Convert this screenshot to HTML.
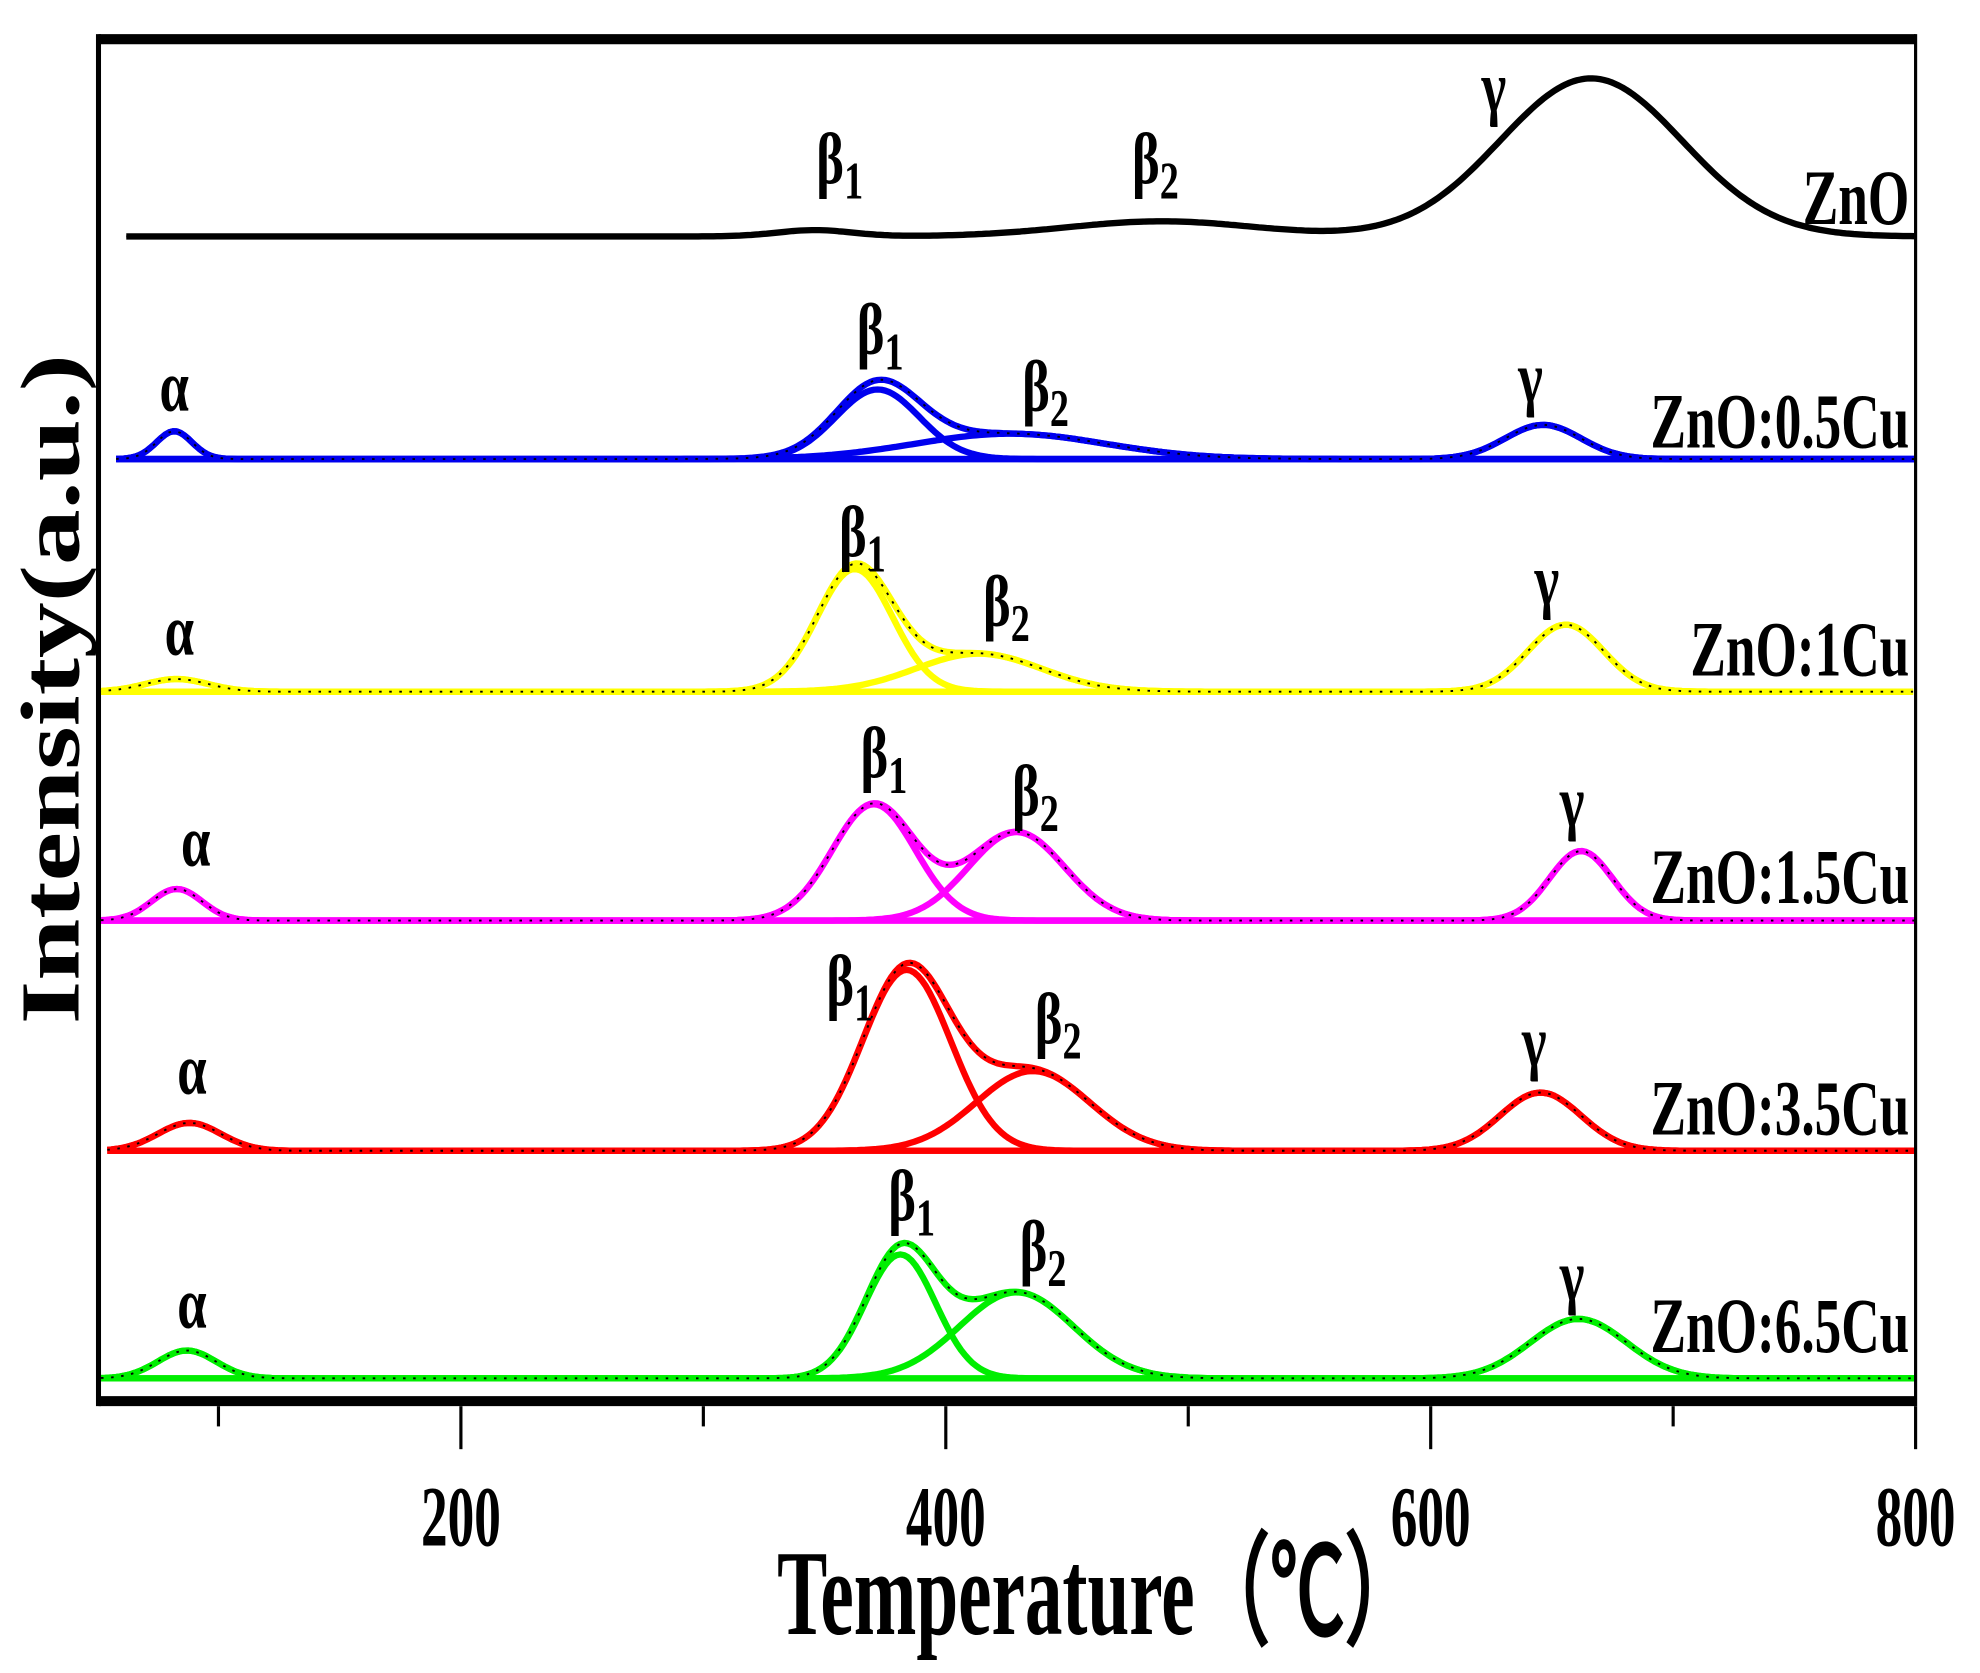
<!DOCTYPE html>
<html><head><meta charset="utf-8"><style>
html,body{margin:0;padding:0;background:#fff;}
svg{display:block;}
text{font-family:"Liberation Serif",serif;font-weight:bold;fill:#000;}
</style></head><body>
<svg id="s" width="1980" height="1673" viewBox="0 0 1568 1323" preserveAspectRatio="none" xmlns="http://www.w3.org/2000/svg">
<rect width="1568" height="1323" fill="#fff"/>
<g id="curves" fill="none" stroke-width="5" stroke-linejoin="round"></g>
<line x1="78" y1="31" x2="1517" y2="31" stroke="#000" stroke-width="8"/>
<line x1="78" y1="1108" x2="1517" y2="1108" stroke="#000" stroke-width="8"/>
<line x1="78" y1="27" x2="78" y2="1112" stroke="#000" stroke-width="4"/>
<line x1="1517" y1="27" x2="1517" y2="1112" stroke="#000" stroke-width="2.5"/>
<g stroke="#000" stroke-width="2.5">
<line x1="365" y1="1112" x2="365" y2="1146"/><line x1="749" y1="1112" x2="749" y2="1146"/>
<line x1="1133" y1="1112" x2="1133" y2="1146"/><line x1="1517" y1="1112" x2="1517" y2="1146"/>
<line x1="173" y1="1112" x2="173" y2="1128"/><line x1="557" y1="1112" x2="557" y2="1128"/>
<line x1="941" y1="1112" x2="941" y2="1128"/><line x1="1325" y1="1112" x2="1325" y2="1128"/>
</g>
<g font-size="68" text-anchor="middle">
<text transform="translate(365,1222) scale(0.62,1)">200</text>
<text transform="translate(749,1222) scale(0.62,1)">400</text>
<text transform="translate(1133,1222) scale(0.62,1)">600</text>
<text transform="translate(1517,1222) scale(0.62,1)">800</text>
</g>
<text font-size="96" text-anchor="middle" transform="translate(870,1292) scale(0.62,1)">Temperature（℃）</text>
<text font-size="66" text-anchor="middle" textLength="530" lengthAdjust="spacingAndGlyphs" transform="translate(62,545) rotate(-90)">Intensity(a.u.)</text>
<g font-size="62" text-anchor="end">
<text transform="translate(1512,177) scale(0.68,1)">ZnO</text>
<text transform="translate(1512,354) scale(0.68,1)">ZnO:0.5Cu</text>
<text transform="translate(1512,534) scale(0.68,1)">ZnO:1Cu</text>
<text transform="translate(1512,714) scale(0.68,1)">ZnO:1.5Cu</text>
<text transform="translate(1512,897) scale(0.68,1)">ZnO:3.5Cu</text>
<text transform="translate(1512,1069) scale(0.68,1)">ZnO:6.5Cu</text>
</g>
<g font-size="58" text-anchor="middle">
<text transform="translate(665,145) scale(0.72,1)">β<tspan font-size="42" dy="12">1</tspan></text>
<text transform="translate(915,145) scale(0.72,1)">β<tspan font-size="42" dy="12">2</tspan></text>
<text transform="translate(1183,88) scale(0.72,1)">γ</text>
<text transform="translate(138,325) scale(0.72,1)">α</text>
<text transform="translate(697,280) scale(0.72,1)">β<tspan font-size="42" dy="12">1</tspan></text>
<text transform="translate(828,325) scale(0.72,1)">β<tspan font-size="42" dy="12">2</tspan></text>
<text transform="translate(1212,318) scale(0.72,1)">γ</text>
<text transform="translate(142,518) scale(0.72,1)">α</text>
<text transform="translate(683,440) scale(0.72,1)">β<tspan font-size="42" dy="12">1</tspan></text>
<text transform="translate(797,495) scale(0.72,1)">β<tspan font-size="42" dy="12">2</tspan></text>
<text transform="translate(1225,478) scale(0.72,1)">γ</text>
<text transform="translate(155,685) scale(0.72,1)">α</text>
<text transform="translate(700,615) scale(0.72,1)">β<tspan font-size="42" dy="12">1</tspan></text>
<text transform="translate(820,645) scale(0.72,1)">β<tspan font-size="42" dy="12">2</tspan></text>
<text transform="translate(1245,653) scale(0.72,1)">γ</text>
<text transform="translate(152,865) scale(0.72,1)">α</text>
<text transform="translate(673,795) scale(0.72,1)">β<tspan font-size="42" dy="12">1</tspan></text>
<text transform="translate(838,825) scale(0.72,1)">β<tspan font-size="42" dy="12">2</tspan></text>
<text transform="translate(1215,843) scale(0.72,1)">γ</text>
<text transform="translate(152,1050) scale(0.72,1)">α</text>
<text transform="translate(722,965) scale(0.72,1)">β<tspan font-size="42" dy="12">1</tspan></text>
<text transform="translate(826,1005) scale(0.72,1)">β<tspan font-size="42" dy="12">2</tspan></text>
<text transform="translate(1245,1028) scale(0.72,1)">γ</text>
</g>
</svg>
<script>
var series=[
 {c:"#000",b:187,x0:100,p:[[645,5,30],[920,12,75],[1260,125,72]]},
 {c:"#0000ee",b:363,x0:92,p:[[138,22,14],[695,55,33],[800,20,75],[1222,27,30]]},
 {c:"#ffff00",b:547,x0:78,p:[[140,10,25],[677,97,30],[775,30,50],[1240,53,30]]},
 {c:"#ff00ff",b:728,x0:80,p:[[140,25,20],[692,92,33],[805,70,38],[1252,55,25]]},
 {c:"#ff0000",b:910,x0:85,p:[[150,22,25],[718,143,35],[818,63,45],[1220,46,32]]},
 {c:"#00ee00",b:1090,x0:80,p:[[148,22,23],[713,98,28],[805,68,45],[1250,47,38]]}
];
var g=document.getElementById("curves"),ns="http://www.w3.org/2000/svg";
function path(d,c,w,dash){var e=document.createElementNS(ns,"path");e.setAttribute("d",d);e.setAttribute("stroke",c);e.setAttribute("stroke-width",w);if(dash)e.setAttribute("stroke-dasharray",dash);g.appendChild(e);}
series.forEach(function(s){
 function f(x,list){var y=0;list.forEach(function(p){y+=p[1]*Math.exp(-(x-p[0])*(x-p[0])/(2*p[2]*p[2]));});return y;}
 if(s.p.length>1 && s.c!="#000"){
  s.p.forEach(function(p){var d="";for(var x=s.x0;x<=1517;x+=3){d+=(x==s.x0?"M":"L")+x+","+(s.b-f(x,[p])).toFixed(1);}path(d,s.c,5);});
 }
 var d="";for(var x=s.x0;x<=1517;x+=3){d+=(x==s.x0?"M":"L")+x+","+(s.b-f(x,s.p)).toFixed(1);}
 path(d,s.c,5);
 path(d,"#000",1.5,"2,6");
});
</script>
</body></html>
